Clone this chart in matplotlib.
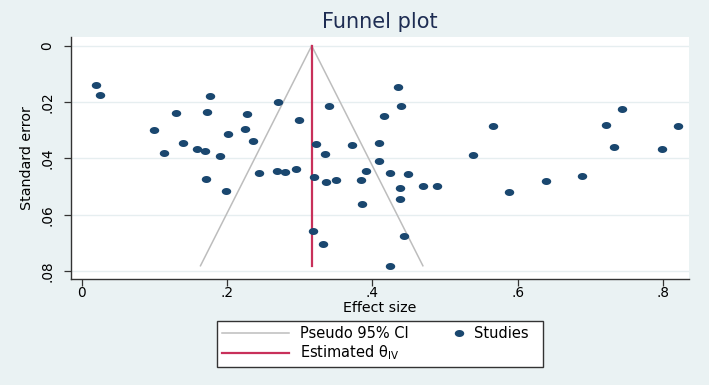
import numpy as np
import matplotlib
matplotlib.use("Agg")
import matplotlib.pyplot as plt
from matplotlib.lines import Line2D
from matplotlib.legend_handler import HandlerLine2D
from matplotlib.path import Path

plt.rcParams['font.family'] = ['DejaVu Sans']
plt.rcParams['mathtext.default'] = 'regular'

# ---- data ----
effect_size = [0.020, 0.025, 0.176, 0.130, 0.1725, 0.100, 0.2014, 0.140, 0.114, 0.1587,
               0.1697, 0.190, 0.171, 0.1986, 0.2698, 0.2271, 0.2995, 0.2248, 0.2358, 0.3404,
               0.322, 0.3353, 0.3716, 0.4097, 0.4097, 0.2440, 0.2693, 0.2798, 0.2954, 0.3198,
               0.3363, 0.3496, 0.3845, 0.3913, 0.4354, 0.4395, 0.4161, 0.5661, 0.5382, 0.4244,
               0.4496, 0.4377, 0.4694, 0.4895, 0.5882, 0.4381, 0.3862, 0.4432, 0.4244, 0.3188,
               0.3321, 0.7433, 0.7221, 0.8208, 0.7323, 0.7988, 0.6391, 0.6887]
std_error = [0.0140, 0.0174, 0.0178, 0.0237, 0.0235, 0.0299, 0.0314, 0.0346, 0.0379, 0.0366,
             0.0374, 0.0392, 0.0472, 0.0516, 0.0199, 0.0242, 0.0264, 0.0295, 0.0339, 0.0214,
             0.0348, 0.0383, 0.0352, 0.0347, 0.0409, 0.0453, 0.0443, 0.0448, 0.0438, 0.0466,
             0.0485, 0.0476, 0.0476, 0.0444, 0.0146, 0.0214, 0.0250, 0.0286, 0.0388, 0.0452,
             0.0454, 0.0506, 0.0498, 0.0498, 0.0518, 0.0545, 0.0562, 0.0676, 0.0781, 0.0659,
             0.0702, 0.0223, 0.0281, 0.0284, 0.0361, 0.0365, 0.0479, 0.0462]
theta_iv = 0.3166
z95 = 1.96
x_ticks = [0, 0.2, 0.4, 0.6, 0.8]
x_tick_labels = ['0', '.2', '.4', '.6', '.8']
y_ticks = [0, 0.02, 0.04, 0.06, 0.08]
y_tick_labels = ['0', '.02', '.04', '.06', '.08']

# ---- styling ----
BG = '#EAF2F3'
NAVY = '#1A476F'
RED = '#C8305A'
GRAY = '#BDBDBD'
TITLE_C = '#1E2D53'

fig = plt.figure(figsize=(7.09, 3.85), dpi=100, facecolor=BG)
ax = fig.add_axes([71/709, 1-279/385, (689-71)/709, (279-37)/385])
ax.set_facecolor('white')

se_max = max(std_error)
se_line = np.array([0.0, se_max])
ax.plot(theta_iv - z95*se_line, se_line, color=GRAY, lw=1.1, zorder=2)
ax.plot(theta_iv + z95*se_line, se_line, color=GRAY, lw=1.1, zorder=2)
ax.plot([theta_iv, theta_iv], [0, se_max], color=RED, lw=1.6, zorder=3)

# elliptical dot marker (slightly wider than tall, as in reference)
t = np.linspace(0, 2*np.pi, 60)
ell = Path(np.column_stack([1.0*np.cos(t), 0.74*np.sin(t)]), closed=True)
ax.plot(effect_size, std_error, linestyle='none', marker=ell, markersize=6.8,
        color=NAVY, markeredgewidth=0, zorder=4)

ax.set_xlim(-0.0147, 0.836)
ax.set_ylim(0.0828, -0.0031)

ax.set_xticks(x_ticks)
ax.set_xticklabels(x_tick_labels)
ax.set_yticks(y_ticks)
ax.set_yticklabels(y_tick_labels, rotation=90, va='center')
ax.tick_params(axis='both', direction='out', length=5, width=0.9, color='#333333',
               labelsize=9.8, labelcolor='black')
ax.tick_params(axis='x', pad=0.3)
ax.tick_params(axis='y', pad=7)
ax.grid(axis='y', color='#E6EEF0', lw=1.0, zorder=0)
ax.grid(axis='x', visible=False)
for s in ['top', 'right']:
    ax.spines[s].set_visible(False)
for s in ['left', 'bottom']:
    ax.spines[s].set_color('#333333')
    ax.spines[s].set_linewidth(1.0)

ax.set_xlabel('Effect size', fontsize=10.3, labelpad=0.3)
ax.set_ylabel('Standard error', fontsize=10.3, labelpad=4.5)
fig.text(380/709, 1-22.5/385, 'Funnel plot', ha='center', va='center',
         fontsize=15, color=TITLE_C)


class RightMarkerHandler(HandlerLine2D):
    def get_xdata(self, legend, xdescent, ydescent, width, height, fontsize):
        m = -xdescent + width - 2.6
        return [m - 0.1, m + 0.1], [m]


h_ci = Line2D([], [], color=GRAY, lw=1.1)
h_est = Line2D([], [], color=RED, lw=1.6)
h_st = Line2D([], [], linestyle='none', marker=ell, markersize=6.8, color=NAVY,
              markeredgewidth=0)
leg = fig.legend([h_ci, h_est, h_st],
                 ['Pseudo 95% CI', r'Estimated $\theta_{IV}$', 'Studies  '],
                 ncol=2, loc='center', bbox_to_anchor=(380/709, 1-344/385),
                 fontsize=10.5, frameon=True, fancybox=False, edgecolor='#333333',
                 facecolor='white', framealpha=1, handlelength=4.6, handletextpad=0.75,
                 columnspacing=-0.9, borderpad=0.33, labelspacing=0.2,
                 handler_map={h_st: RightMarkerHandler(numpoints=1)})
leg.get_frame().set_linewidth(1.0)

fig.savefig('out.png', dpi=100, facecolor=BG)
